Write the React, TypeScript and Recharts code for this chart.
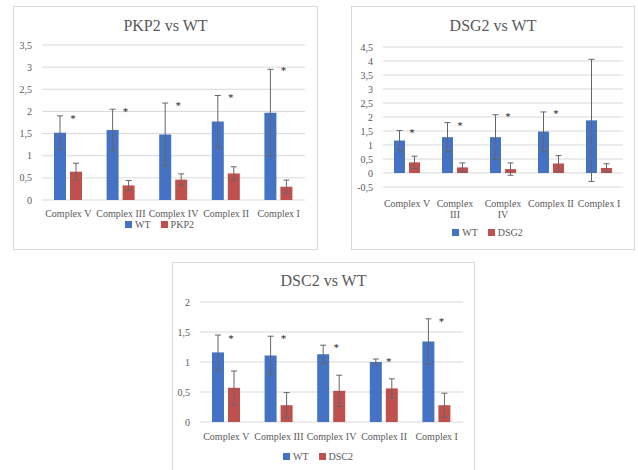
import { BarChart, Bar, XAxis, YAxis, CartesianGrid, ErrorBar, LabelList, Legend } from 'recharts';

const categories = ['Complex V', 'Complex III', 'Complex IV', 'Complex II', 'Complex I'];
// DSG2 panel is narrower, so Excel wrapped two of its category labels
const dsg2TickLabels = ['Complex V', 'Complex\nIII', 'Complex\nIV', 'Complex II', 'Complex I'];

// PKP2 vs WT
const pkp2Wt = [1.52, 1.58, 1.48, 1.77, 1.97];
const pkp2WtErr = [0.38, 0.47, 0.71, 0.59, 0.98];
const pkp2Mut = [0.64, 0.33, 0.46, 0.6, 0.3];
const pkp2MutErr = [0.19, 0.11, 0.13, 0.15, 0.15];
const pkp2Star = [1.9, 2.05, 2.19, 2.36, 2.97];
const pkp2Ticks = [0, 0.5, 1, 1.5, 2, 2.5, 3, 3.5];

// DSG2 vs WT
const dsg2Wt = [1.16, 1.28, 1.28, 1.48, 1.88];
const dsg2WtErr = [0.36, 0.52, 0.8, 0.7, 2.18];
const dsg2Mut = [0.38, 0.2, 0.14, 0.34, 0.18];
const dsg2MutErr = [0.22, 0.16, 0.22, 0.28, 0.15];
const dsg2Star = [1.52, 1.8, 2.09, 2.2, null];
const dsg2Ticks = [-0.5, 0, 0.5, 1, 1.5, 2, 2.5, 3, 3.5, 4, 4.5];

// DSC2 vs WT
const dsc2Wt = [1.16, 1.11, 1.13, 1.0, 1.34];
const dsc2WtErr = [0.29, 0.32, 0.15, 0.05, 0.38];
const dsc2Mut = [0.57, 0.28, 0.52, 0.56, 0.28];
const dsc2MutErr = [0.28, 0.21, 0.26, 0.16, 0.2];
const dsc2Star = [1.44, 1.43, 1.28, 1.05, 1.72];
const dsc2Ticks = [0, 0.5, 1, 1.5, 2];

const BLUE = '#4472c4';
const RED = '#c0504d';
const TEXT = '#595959';
const FONT = '"Liberation Serif", serif';

const fmt = (v: number) => String(v).replace('.', ',');

function Panel(props: any) {
  const { title, mutName, wt, wtErr, mut, mutErr, star, ticks, box, margin, yWidth, xHeight, barSize, tickLabels, tickGap } = props;
  const data = categories.map((name, i) => ({
    name, wt: wt[i], wtErr: wtErr[i], mut: mut[i], mutErr: mutErr[i], star: star[i],
  }));
  const chartW = box.width - 2;
  const chartH = box.height - 2;

  // asterisk placed at the WT error-bar top, over the mutant bar
  const renderStar = (p: any) => {
    const vb = p.viewBox ?? p;
    const { x, y, height } = vb;
    const value = p.value;
    if (value == null) return null;
    const barVal = mut[p.index];
    const zeroY = y + height;
    const sy = zeroY - value * (height / barVal);
    return (
      <text x={x + 3} y={sy + 6} fontSize={10} fill="#111" opacity={0.99} fontFamily='"DejaVu Serif", serif' textAnchor="middle">*</text>
    );
  };

  const renderTick = (p: any) => {
    const label = (tickLabels ? tickLabels[p.index] : p.payload.value) as string;
    const lines = label.split('\n');
    return (
      <text x={p.x} y={p.y} textAnchor="middle" fontSize={10} fill={TEXT} fontFamily={FONT}>
        {lines.map((ln, i) => (
          <tspan key={i} x={p.x} dy={i === 0 ? 8 : 11}>{ln}</tspan>
        ))}
      </text>
    );
  };

  return (
    <div style={{ position: 'absolute', left: box.left, top: box.top, width: box.width, height: box.height, border: '1px solid #d9d9d9', boxSizing: 'border-box', background: '#fff' }}>
      <div style={{ position: 'absolute', left: 0, right: 0, top: box.titleTop, textAlign: 'center', fontFamily: FONT, fontSize: 16, color: TEXT, lineHeight: '18px' }}>
        {title}
      </div>
      <BarChart width={chartW} height={chartH} data={data} margin={margin} barGap={4} barSize={barSize}>
        <CartesianGrid vertical={false} stroke="#d9d9d9" />
        <XAxis
          dataKey="name"
          axisLine={false}
          tickLine={false}
          height={xHeight}
          interval={0}
          tickMargin={tickGap}
          tick={renderTick}
        />
        <YAxis
          width={yWidth}
          domain={[ticks[0], ticks[ticks.length - 1]]}
          ticks={ticks}
          interval={0}
          axisLine={false}
          tickLine={false}
          tickMargin={4}
          tickFormatter={fmt}
          tick={{ fontSize: 10, fill: TEXT, fontFamily: FONT }}
        />
        <Legend
          verticalAlign="bottom"
          height={14}
          content={() => (
            <div style={{ display: 'flex', justifyContent: 'center', gap: 10, fontFamily: FONT, fontSize: 10, color: TEXT, height: 14, alignItems: 'center' }}>
              <span style={{ display: 'flex', alignItems: 'center', gap: 3 }}>
                <span style={{ width: 7, height: 7, background: BLUE, display: 'inline-block' }} />WT
              </span>
              <span style={{ display: 'flex', alignItems: 'center', gap: 3 }}>
                <span style={{ width: 7, height: 7, background: RED, display: 'inline-block' }} />{mutName}
              </span>
            </div>
          )}
        />
        <Bar dataKey="wt" name="WT" fill={BLUE} isAnimationActive={false}>
          <ErrorBar dataKey="wtErr" width={3} stroke="#666" strokeWidth={1} direction="y" />
        </Bar>
        <Bar dataKey="mut" name={mutName} fill={RED} isAnimationActive={false}>
          <ErrorBar dataKey="mutErr" width={3} stroke="#666" strokeWidth={1} direction="y" />
          <LabelList dataKey="star" content={renderStar} />
        </Bar>
      </BarChart>
    </div>
  );
}

export default function App() {
  return (
    <div style={{ position: 'absolute', left: 0, top: 0, width: 638, height: 470, background: '#fff', overflow: 'hidden' }}>
      <Panel
        title="PKP2 vs WT"
        mutName="PKP2"
        wt={pkp2Wt} wtErr={pkp2WtErr} mut={pkp2Mut} mutErr={pkp2MutErr} star={pkp2Star}
        ticks={pkp2Ticks}
        box={{ left: 13, top: 6, width: 305, height: 244, titleTop: 10 }}
        margin={{ top: 38, right: 12, bottom: 18, left: 0 }}
        yWidth={28}
        xHeight={17}
        barSize={12}
        tickGap={3}
      />
      <Panel
        title="DSG2 vs WT"
        mutName="DSG2"
        wt={dsg2Wt} wtErr={dsg2WtErr} mut={dsg2Mut} mutErr={dsg2MutErr} star={dsg2Star}
        ticks={dsg2Ticks}
        box={{ left: 351, top: 6, width: 284, height: 244, titleTop: 10 }}
        margin={{ top: 40, right: 11, bottom: 10, left: 0 }}
        yWidth={31}
        xHeight={38}
        barSize={11}
        tickLabels={dsg2TickLabels}
        tickGap={6}
      />
      <Panel
        title="DSC2 vs WT"
        mutName="DSC2"
        wt={dsc2Wt} wtErr={dsc2WtErr} mut={dsc2Mut} mutErr={dsc2MutErr} star={dsc2Star}
        ticks={dsc2Ticks}
        box={{ left: 172, top: 262, width: 303, height: 209, titleTop: 9 }}
        margin={{ top: 39, right: 11, bottom: 7, left: 0 }}
        yWidth={27}
        xHeight={27}
        barSize={12}
        tickGap={4}
      />
    </div>
  );
}
